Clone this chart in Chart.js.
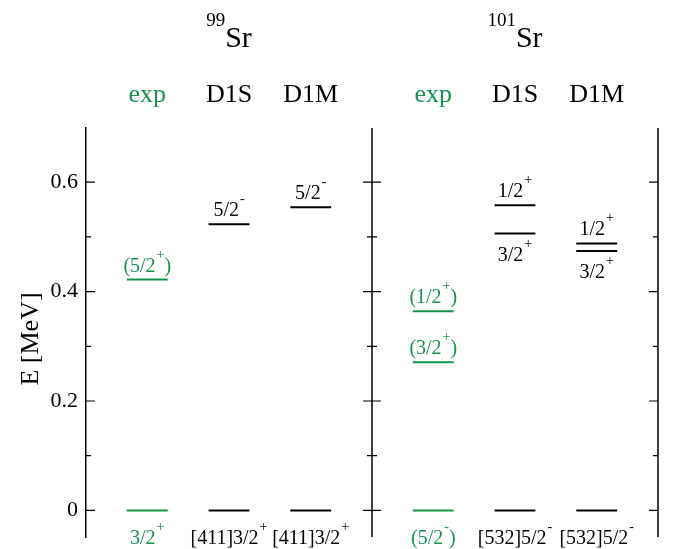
<!DOCTYPE html>
<html>
<head>
<meta charset="utf-8">
<title>Sr level schemes</title>
<script src="https://cdn.jsdelivr.net/npm/chart.js@4.4.1/dist/chart.umd.min.js"></script>
<style>
  html,body{margin:0;padding:0;background:#fff;}
  #wrap{width:675px;height:549px;position:relative;}
</style>
</head>
<body>
<div id="wrap"><canvas id="levels"></canvas></div>
<script>
/* ---------- data ---------- */
const nuclei  = ['99','101'];
const columns = ['exp','D1S','D1M'];

// energies in MeV, labels use ^ for the superscript parity
const sr99Exp        = [0, 0.422];
const sr99ExpLabels  = ['3/2^+', '(5/2^+)'];
const sr99ExpSide    = ['g', 'a'];
const sr99D1S        = [0, 0.523];
const sr99D1SLabels  = ['[411]3/2^+', '5/2^-'];
const sr99D1SSide    = ['g', 'a'];
const sr99D1M        = [0, 0.554];
const sr99D1MLabels  = ['[411]3/2^+', '5/2^-'];
const sr99D1MSide    = ['g', 'a'];

const sr101Exp       = [0, 0.271, 0.364];
const sr101ExpLabels = ['(5/2^-)', '(3/2^+)', '(1/2^+)'];
const sr101ExpSide   = ['g', 'a', 'a'];
const sr101D1S       = [0, 0.506, 0.558];
const sr101D1SLabels = ['[532]5/2^-', '3/2^+', '1/2^+'];
const sr101D1SSide   = ['g', 'b', 'a'];
const sr101D1M       = [0, 0.474, 0.488];
const sr101D1MLabels = ['[532]5/2^-', '3/2^+', '1/2^+'];
const sr101D1MSide   = ['g', 'b', 'a'];

const yTicksMajor = [0, 0.2, 0.4, 0.6];

/* ---------- layout / style ---------- */
const GREEN = '#16924a', BLACK = '#000';
const SERIF = '"Liberation Serif","DejaVu Serif",serif';
const PANEL = 3.5, FIRST = 0.75, STEP = 1.0, HALF = 0.25;

const panels = [
  {energies:[sr99Exp,sr99D1S,sr99D1M],  labels:[sr99ExpLabels,sr99D1SLabels,sr99D1MLabels],   sides:[sr99ExpSide,sr99D1SSide,sr99D1MSide]},
  {energies:[sr101Exp,sr101D1S,sr101D1M],labels:[sr101ExpLabels,sr101D1SLabels,sr101D1MLabels],sides:[sr101ExpSide,sr101D1SSide,sr101D1MSide]}
];
const colX = (p,c) => p*PANEL + FIRST + c*STEP;

/* one line dataset per column, gaps between levels */
const datasets = [];
panels.forEach((pn,p)=>{
  pn.energies.forEach((es,c)=>{
    const cx = colX(p,c), pts = [];
    es.forEach(e=>{ pts.push({x:cx-HALF,y:e},{x:cx+HALF,y:e},{x:cx,y:null}); });
    datasets.push({
      data:pts, borderColor:c===0?GREEN:BLACK, borderWidth:2,
      pointRadius:0, spanGaps:false, fill:false, tension:0
    });
  });
});

/* ---------- text helpers ---------- */
function parts(txt){
  const out=[]; let buf='';
  for(let i=0;i<txt.length;i++){
    if(txt[i]==='^'){ if(buf) out.push({t:buf,s:false}); buf=''; out.push({t:txt[++i],s:true}); }
    else buf+=txt[i];
  }
  if(buf) out.push({t:buf,s:false});
  return out;
}
function drawSup(ctx,txt,cx,base,color,size,supSize,raise){
  const ps=parts(txt);
  const f = s=>`${s?supSize:size}px ${SERIF}`;
  let w=0;
  ps.forEach(p=>{ctx.font=f(p.s); w+=ctx.measureText(p.t).width + (p.s?1:0);});
  let x=cx-w/2;
  ctx.fillStyle=color; ctx.textAlign='left'; ctx.textBaseline='alphabetic';
  ps.forEach(p=>{
    ctx.font=f(p.s);
    if(p.s){ ctx.fillText(p.t,x+1,base-raise); x+=ctx.measureText(p.t).width+1; }
    else   { ctx.fillText(p.t,x,base); x+=ctx.measureText(p.t).width; }
  });
}

/* ---------- plugin: axes ticks, level labels, headers ---------- */
const decor = {
  id:'decor',
  afterDraw(chart){
    const {ctx, chartArea:a, scales:{x,y}} = chart;
    ctx.save();
    // middle + right axis lines
    ctx.strokeStyle=BLACK;
    ctx.lineWidth=1.5;
    const mid = x.getPixelForValue(PANEL);
    ctx.beginPath();
    ctx.moveTo(mid,a.top); ctx.lineTo(mid,a.bottom);
    ctx.moveTo(a.right,a.top); ctx.lineTo(a.right,a.bottom);
    ctx.stroke();
    // tick marks
    ctx.lineWidth=1.2;
    y.ticks.forEach(t=>{
      const py = y.getPixelForValue(t.value);
      const major = yTicksMajor.some(m=>Math.abs(m-t.value)<1e-6);
      const len = major?9:5;
      ctx.beginPath();
      ctx.moveTo(a.left,py); ctx.lineTo(a.left+len,py);
      ctx.moveTo(mid-len,py); ctx.lineTo(mid+len,py);
      ctx.moveTo(a.right-len,py); ctx.lineTo(a.right,py);
      ctx.stroke();
    });
    // level labels
    panels.forEach((pn,p)=>{
      pn.energies.forEach((es,c)=>{
        const cx = x.getPixelForValue(colX(p,c));
        es.forEach((e,i)=>{
          const py = y.getPixelForValue(e);
          const side = pn.sides[c][i];
          const base = side==='a' ? py-8 : side==='b' ? py+27 : py+34;
          drawSup(ctx,pn.labels[c][i],cx,base,c===0?GREEN:BLACK,20,14,13);
        });
        // column header
        ctx.font=`26px ${SERIF}`; ctx.textAlign='center'; ctx.textBaseline='alphabetic';
        ctx.fillStyle=c===0?GREEN:BLACK;
        ctx.fillText(columns[c],cx,102);
      });
      // nucleus title  ^A Sr
      const tx = x.getPixelForValue(colX(p,1));
      ctx.font=`19px ${SERIF}`; const wA=ctx.measureText(nuclei[p]).width;
      ctx.font=`30px ${SERIF}`; const wS=ctx.measureText('Sr').width;
      const x0 = tx-(wA+wS)/2;
      ctx.fillStyle=BLACK; ctx.textAlign='left';
      ctx.font=`19px ${SERIF}`; ctx.fillText(nuclei[p],x0,26);
      ctx.font=`30px ${SERIF}`; ctx.fillText('Sr',x0+wA,47);
    });
    // y axis title
    ctx.translate(31,339); ctx.rotate(-Math.PI/2);
    ctx.font=`26px ${SERIF}`; ctx.fillStyle=BLACK; ctx.textAlign='center'; ctx.textBaseline='middle';
    ctx.fillText('E [MeV]',0,0);
    ctx.restore();
  }
};

new Chart(document.getElementById('levels'),{
  type:'line',
  data:{datasets},
  options:{
    responsive:true, maintainAspectRatio:false, animation:false,
    layout:{padding:{top:128,right:17,bottom:12,left:0}},
    plugins:{legend:{display:false}, tooltip:{enabled:false}},
    scales:{
      x:{type:'linear', min:0, max:2*PANEL, display:false},
      y:{
        type:'linear', min:-0.0486, max:0.699,
        afterFit:s=>{ s.width=86; s.paddingTop=0; s.paddingBottom=0; },
        border:{display:true,color:BLACK,width:1.5},
        grid:{display:true,drawOnChartArea:false,drawTicks:false,color:'rgba(0,0,0,0)'},
        ticks:{
          stepSize:0.1, includeBounds:false, padding:8, color:BLACK,
          font:{family:SERIF,size:22},
          callback:v=>yTicksMajor.some(m=>Math.abs(m-v)<1e-6) ? String(Math.round(v*10)/10) : ''
        }
      }
    }
  },
  plugins:[decor]
});
</script>
</body>
</html>
